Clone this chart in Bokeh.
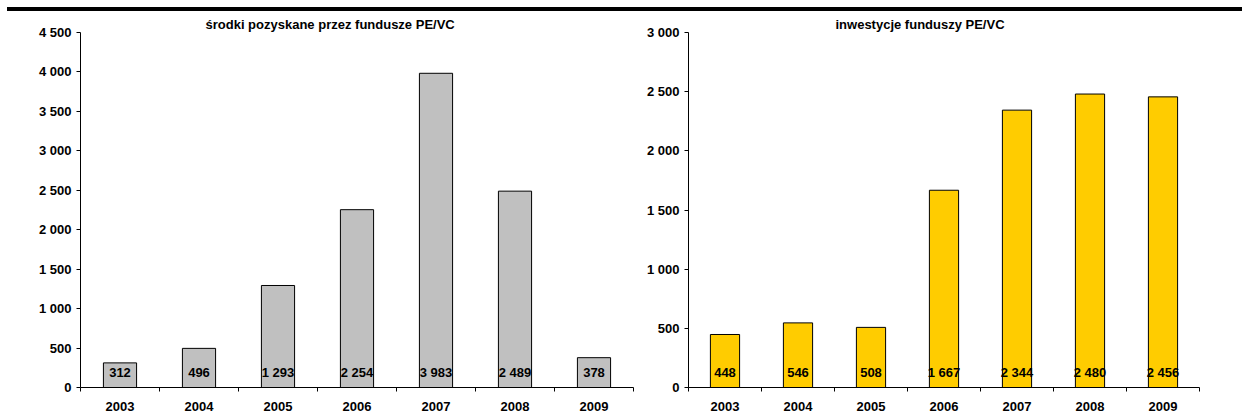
from bokeh.plotting import figure
from bokeh.models import (Range1d, FixedTicker, CustomJSTickFormatter, Div, Title,
                          ColumnDataSource)
from bokeh.layouts import column, row
from bokeh.core.properties import value
from bokeh.embed import file_html
from bokeh.resources import INLINE

years = ["2003", "2004", "2005", "2006", "2007", "2008", "2009"]
raised = [312, 496, 1293, 2254, 3983, 2489, 378]
invested = [448, 546, 508, 1667, 2344, 2480, 2456]
left_title = "środki pozyskane przez fundusze PE/VC"
right_title = "inwestycje funduszy PE/VC"
left_yticks = [0, 500, 1000, 1500, 2000, 2500, 3000, 3500, 4000, 4500]
right_yticks = [0, 500, 1000, 1500, 2000, 2500, 3000]

FONT = "Liberation Sans"


def fmt(v):
    return f"{v:,}".replace(",", " ")


def make(vals, yticks, title, color, width, bl, br, toff, bar_w):
    n = len(years)
    xs = [i + 0.5 for i in range(n)]
    src = ColumnDataSource(dict(x=xs, top=vals, lab=[fmt(v) for v in vals]))
    p = figure(width=width, height=409, output_backend="svg", toolbar_location=None,
               x_range=Range1d(0, n), y_range=Range1d(yticks[0], yticks[-1]),
               min_border_left=bl, min_border_right=br, min_border_top=21,
               min_border_bottom=33, outline_line_color=None,
               background_fill_color="white", border_fill_color="white")
    p.xgrid.visible = False
    p.ygrid.visible = False
    t = Title(text=title, align="left", offset=toff, text_font=FONT,
              text_font_size="13px", text_font_style="bold", standoff=2,
              text_color="black")
    p.add_layout(t, "above")
    p.vbar(x="x", top="top", width=bar_w, bottom=0, source=src, fill_color=color,
           line_color="black", line_width=1)
    p.text(x="x", y=0, text="lab", source=src, y_offset=-15, text_align="center",
           text_baseline="middle", text_font=value(FONT), text_font_size="13px",
           text_font_style="bold", text_color="black")
    # x axis
    xa = p.xaxis[0]
    xa.ticker = FixedTicker(ticks=xs, minor_ticks=list(range(n + 1)))
    xa.major_label_overrides = {x: y for x, y in zip(xs, years)}
    xa.major_tick_line_color = None
    xa.minor_tick_in = 0
    xa.minor_tick_out = 4
    xa.minor_tick_line_color = "black"
    xa.axis_line_color = "black"
    xa.major_label_text_font = FONT
    xa.major_label_text_font_size = "13px"
    xa.major_label_text_font_style = "bold"
    xa.major_label_text_color = "black"
    xa.major_label_standoff = 8
    # y axis
    ya = p.yaxis[0]
    ya.ticker = FixedTicker(ticks=yticks)
    ya.formatter = CustomJSTickFormatter(
        code="return Math.round(tick).toString().replace(/\\B(?=(\\d{3})+(?!\\d))/g, ' ');")
    ya.major_tick_in = 0
    ya.major_tick_out = 4
    ya.minor_tick_line_color = None
    ya.major_tick_line_color = "black"
    ya.axis_line_color = "black"
    ya.major_label_text_font = FONT
    ya.major_label_text_font_size = "13px"
    ya.major_label_text_font_style = "bold"
    ya.major_label_text_color = "black"
    ya.major_label_standoff = 5
    return p


p1 = make(raised, left_yticks, left_title, "#C0C0C0", 640, 80, 7, 125, 0.42)
p2 = make(invested, right_yticks, right_title, "#FFCC00", 602, 48, 43, 147, 0.4)

line = Div(text="", width=1235, height=4, margin=(7, 0, 0, 7),
           styles={"background-color": "black", "overflow": "hidden"})

layout = column(line, row(p1, p2, spacing=0), spacing=0)

open("out.html", "w").write(file_html(layout, INLINE))
